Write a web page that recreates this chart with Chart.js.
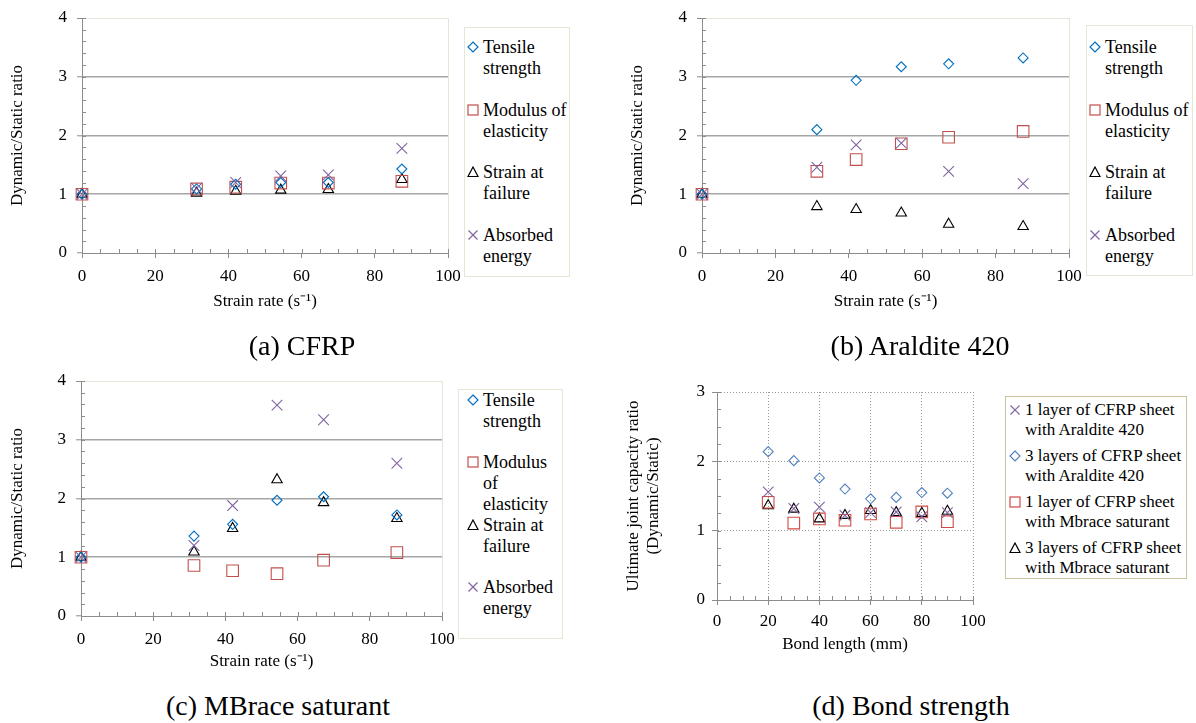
<!DOCTYPE html>
<html>
<head>
<meta charset="utf-8">
<script src="https://cdn.jsdelivr.net/npm/chart.js@4.4.1/dist/chart.umd.min.js"></script>
<style>
  body { margin: 0; background: #fff; }
  #page { position: relative; width: 1196px; height: 723px; overflow: hidden; font-family: "Liberation Serif", "Times New Roman", serif; }
  .cv { position: absolute; }
  .legend { position: absolute; box-sizing: border-box; border: 1px solid #e6e6d4; background: #fff; }
  .entry { position: absolute; font-family: "Liberation Serif", serif; font-size: 18px; line-height: 21px; color: #000; white-space: nowrap; }
  .entry svg { position: absolute; left: -16px; top: 4px; }
  .caption { position: absolute; font-family: "Liberation Serif", serif; font-size: 28px; line-height: 32px; text-align: center; width: 400px; }
</style>
</head>
<body>
<div id="page">
  <canvas id="chartA" class="cv" style="left:0px;top:-3px;width:472px;height:323px"></canvas>
  <canvas id="chartB" class="cv" style="left:600px;top:-3px;width:493px;height:323px"></canvas>
  <canvas id="chartC" class="cv" style="left:0px;top:360px;width:466px;height:323px"></canvas>
  <canvas id="chartD" class="cv" style="left:600px;top:372px;width:393px;height:300px"></canvas>
  <div class="caption" style="left:102px;top:330px">(a) CFRP</div>
  <div class="caption" style="left:720px;top:330px">(b) Araldite 420</div>
  <div class="caption" style="left:78px;top:690px">(c) MBrace saturant</div>
  <div class="caption" style="left:711px;top:690px">(d) Bond strength</div>
</div>
<script>
// (a) CFRP
var rateA = [0, 31.3, 42, 54.3, 67.3, 87.4];
var tensileA = [1, 1.09, 1.17, 1.2, 1.2, 1.43];
var modulusA = [1, 1.09, 1.12, 1.19, 1.19, 1.22];
var strainA = [1, 1.02, 1.05, 1.07, 1.08, 1.25];
var energyA = [1, 1.1, 1.2, 1.31, 1.33, 1.78];

// (b) Araldite 420
var rateB = [0, 31.3, 42, 54.3, 67.2, 87.5];
var tensileB = [1, 2.10, 2.94, 3.17, 3.22, 3.32];
var modulusB = [1, 1.39, 1.59, 1.86, 1.97, 2.07];
var strainB = [1, 0.79, 0.74, 0.68, 0.49, 0.45];
var energyB = [1, 1.46, 1.84, 1.87, 1.39, 1.18];

// (c) MBrace saturant
var rateC = [0, 31.3, 42, 54.3, 67.2, 87.5];
var tensileC = [1, 1.36, 1.56, 1.97, 2.03, 1.72];
var modulusC = [1, 0.86, 0.77, 0.72, 0.95, 1.08];
var strainC = [1, 1.09, 1.49, 2.32, 1.93, 1.66];
var energyC = [1, 1.20, 1.88, 3.59, 3.34, 2.60];

// (d) Bond strength
var bondLength = [20, 30, 40, 50, 60, 70, 80, 90];
var oneLayerAraldite = [1.56, 1.32, 1.34, 1.22, 1.26, 1.27, 1.20, 1.26];
var threeLayerAraldite = [2.14, 2.01, 1.76, 1.60, 1.46, 1.48, 1.55, 1.54];
var oneLayerMbrace = [1.41, 1.11, 1.17, 1.15, 1.24, 1.12, 1.27, 1.13];
var threeLayerMbrace = [1.36, 1.31, 1.17, 1.22, 1.29, 1.26, 1.25, 1.28];

var propLabels = [["Tensile", "strength"], ["Modulus of", "elasticity"], ["Strain at", "failure"], ["Absorbed", "energy"]];
var propLabelsC = [["Tensile", "strength"], ["Modulus", "of", "elasticity"], ["Strain at", "failure"], ["Absorbed", "energy"]];
var bondLabels = [["1 layer of CFRP sheet", "with Araldite 420"], ["3 layers of CFRP sheet", "with Araldite 420"],
                  ["1 layer of CFRP sheet", "with Mbrace saturant"], ["3 layers of CFRP sheet", "with Mbrace saturant"]];

var BLUE = "#0070c0", RED = "#c0504d", PURPLE = "#8064a2", BLACK = "#000000";
var FONT = "'Liberation Serif', 'Times New Roman', serif";

function toPoints(xs, ys) {
    var pts = [];
    for (var i = 0; i < xs.length; i++) pts.push({x: xs[i], y: ys[i]});
    return pts;
}

var markers = {
    diamond: {pointStyle: "rectRot", radius: 5},
    square: {pointStyle: "rect", radius: 8.2},
    triangle: {pointStyle: "triangle", radius: 6},
    cross: {pointStyle: "crossRot", radius: 7.5}
};

function dataset(label, xs, ys, kind, color) {
    return {
        label: label, data: toPoints(xs, ys), showLine: false, clip: false,
        pointStyle: markers[kind].pointStyle, pointRadius: markers[kind].radius,
        pointBorderColor: color, pointBackgroundColor: "rgba(0,0,0,0)", pointBorderWidth: 1.1
    };
}

// small inward ticks between the major ones
var minorTicks = {
    id: "minorTicks",
    afterDraw: function(chart, args, opts) {
        var ctx = chart.ctx, a = chart.chartArea, xs = chart.scales.x, ys = chart.scales.y;
        ctx.save();
        ctx.strokeStyle = "#8c8c8c";
        ctx.lineWidth = 1;
        ctx.beginPath();
        for (var v = ys.min; v <= ys.max + 1e-9; v += opts.y) {
            var py = Math.round(ys.getPixelForValue(v)) + 0.5;
            ctx.moveTo(a.left, py); ctx.lineTo(a.left + 4, py);
        }
        for (var u = xs.min; u <= xs.max + 1e-9; u += opts.x) {
            var px = Math.round(xs.getPixelForValue(u)) + 0.5;
            ctx.moveTo(px, a.bottom); ctx.lineTo(px, a.bottom - 4);
        }
        ctx.stroke();
        ctx.restore();
    }
};

function propChart(id, xs, series, cfg) {
    var colors = [BLUE, RED, BLACK, PURPLE];
    var kinds = ["diamond", "square", "triangle", "cross"];
    var names = ["Tensile strength", "Modulus of elasticity", "Strain at failure", "Absorbed energy"];
    var sets = [];
    // draw order: energy, tensile, modulus, strain
    [3, 0, 1, 2].forEach(function(i) { sets.push(dataset(names[i], xs, series[i], kinds[i], colors[i])); });
    return new Chart(document.getElementById(id), {
        type: "scatter",
        data: {datasets: sets},
        options: {
            responsive: false, animation: false,
            layout: {padding: {left: cfg.padLeft, top: 21, right: 24, bottom: cfg.padBottom}},
            plugins: {legend: {display: false}, tooltip: {enabled: false}, minorTicks: {x: 5, y: 0.2}},
            scales: {
                x: {
                    type: "linear", min: 0, max: 100,
                    afterFit: function(s) { s.height = cfg.xHeight; },
                    ticks: {stepSize: 20, color: "#000", font: {family: FONT, size: 17}, padding: 8, maxRotation: 0},
                    grid: {
                        color: function(c) { return c.tick && c.tick.value === 100 ? "#e6e6d8" : "rgba(0,0,0,0)"; },
                        tickColor: "#8c8c8c", tickLength: 5, lineWidth: 1
                    },
                    border: {color: "#8c8c8c", width: 1},
                    title: {display: true, text: "Strain rate (s\u207B\u00B9)", color: "#000", font: {family: FONT, size: 17}, padding: {top: 0, bottom: 2}}
                },
                y: {
                    min: 0, max: 4,
                    afterFit: function(s) { s.width = cfg.yWidth; },
                    ticks: {stepSize: 1, color: "#000", font: {family: FONT, size: 17}, padding: 10},
                    grid: {
                        color: function(c) {
                            if (!c.tick) return "rgba(0,0,0,0)";
                            if (c.tick.value === 4) return "#e6e6d8";
                            if (c.tick.value === 0) return "rgba(0,0,0,0)";
                            return "#a6a6a6";
                        },
                        lineWidth: function(c) { return c.tick && c.tick.value === 4 ? 1 : 1.6; },
                        tickColor: "#8c8c8c", tickLength: 5, tickWidth: 1
                    },
                    border: {color: "#8c8c8c", width: 1},
                    title: {display: true, text: "Dynamic/Static ratio", color: "#000", font: {family: FONT, size: 17}, padding: {top: 7, bottom: 0}}
                }
            }
        },
        plugins: [minorTicks]
    });
}

propChart("chartA", rateA, [tensileA, modulusA, strainA, energyA], {padLeft: 0, padBottom: 6, xHeight: 61, yWidth: 82});
propChart("chartB", rateB, [tensileB, modulusB, strainB, energyB], {padLeft: 20, padBottom: 6, xHeight: 61, yWidth: 82});
propChart("chartC", rateC, [tensileC, modulusC, strainC, energyC], {padLeft: 0, padBottom: 9, xHeight: 58, yWidth: 81});

// (d) bond strength chart
var D_BLUE = "#4f81bd", D_RED = "#d04a45";
new Chart(document.getElementById("chartD"), {
    type: "scatter",
    data: {datasets: [
        dataset("1 layer of CFRP sheet with Araldite 420", bondLength, oneLayerAraldite, "cross", PURPLE),
        dataset("3 layers of CFRP sheet with Araldite 420", bondLength, threeLayerAraldite, "diamond", D_BLUE),
        dataset("1 layer of CFRP sheet with Mbrace saturant", bondLength, oneLayerMbrace, "square", D_RED),
        dataset("3 layers of CFRP sheet with Mbrace saturant", bondLength, threeLayerMbrace, "triangle", BLACK)
    ]},
    options: {
        responsive: false, animation: false,
        layout: {padding: {left: 0, top: 20, right: 20, bottom: 15}},
        plugins: {legend: {display: false}, tooltip: {enabled: false}, minorTicks: {x: 5, y: 0.25}},
        scales: {
            x: {
                type: "linear", min: 0, max: 100,
                afterFit: function(s) { s.height = 57; },
                ticks: {stepSize: 20, color: "#000", font: {family: FONT, size: 17}, padding: 6, maxRotation: 0},
                grid: {
                    color: function(c) { return c.tick && c.tick.value > 0 ? "#9a9a9a" : "rgba(0,0,0,0)"; },
                    tickColor: "#8c8c8c", tickLength: 5, lineWidth: 1
                },
                border: {color: "#8c8c8c", width: 1, dash: [1, 2]},
                title: {display: true, text: "Bond length (mm)", color: "#000", font: {family: FONT, size: 17}, padding: {top: 0, bottom: 2}}
            },
            y: {
                min: 0, max: 3,
                afterFit: function(s) { s.width = 117; },
                ticks: {stepSize: 1, color: "#000", font: {family: FONT, size: 17}, padding: 7},
                grid: {
                    color: function(c) { return c.tick && c.tick.value > 0 ? "#9a9a9a" : "rgba(0,0,0,0)"; },
                    tickColor: "#8c8c8c", tickLength: 5, lineWidth: 1
                },
                border: {color: "#8c8c8c", width: 1, dash: [1, 2]},
                title: {display: true, text: ["Ultimate joint capacity ratio", "(Dynamic/Static)"], color: "#000",
                        font: {family: FONT, size: 17}, padding: {top: 23, bottom: 0}}
            }
        }
    },
    plugins: [minorTicks]
});

// HTML legends
function markerSvg(kind, color) {
    var s = '<svg width="12" height="12" viewBox="0 0 12 12">';
    if (kind === "diamond") s += '<polygon points="6,1 11,6 6,11 1,6" fill="none" stroke="' + color + '" stroke-width="1.2"/>';
    if (kind === "square") s += '<rect x="1" y="1" width="10" height="10" fill="none" stroke="' + color + '" stroke-width="1.2"/>';
    if (kind === "triangle") s += '<polygon points="6,1 11,10.5 1,10.5" fill="none" stroke="' + color + '" stroke-width="1.2"/>';
    if (kind === "cross") s += '<path d="M1.5,1.5 L10.5,10.5 M10.5,1.5 L1.5,10.5" stroke="' + color + '" stroke-width="1.2"/>';
    return s + '</svg>';
}

function makeLegend(box, textLeft, tops, labels, kinds, colors, fontSize, borderColor) {
    var page = document.getElementById("page");
    var div = document.createElement("div");
    div.className = "legend";
    div.style.left = box[0] + "px"; div.style.top = box[1] + "px";
    div.style.width = box[2] + "px"; div.style.height = box[3] + "px";
    if (borderColor) div.style.borderColor = borderColor;
    page.appendChild(div);
    for (var i = 0; i < labels.length; i++) {
        var e = document.createElement("div");
        e.className = "entry";
        e.style.left = textLeft + "px";
        e.style.top = (tops[i] - 10) + "px";
        if (fontSize) { e.style.fontSize = fontSize + "px"; e.style.lineHeight = "20px"; }
        e.innerHTML = markerSvg(kinds[i], colors[i]) + labels[i].join("<br>");
        page.appendChild(e);
    }
}

var propKinds = ["diamond", "square", "triangle", "cross"];
var propColors = [BLUE, RED, BLACK, PURPLE];
makeLegend([464, 27, 106, 250], 483, [47, 110, 172, 235], propLabels, propKinds, propColors);
makeLegend([1086, 25, 107, 251], 1105, [47, 110, 172, 235], propLabels, propKinds, propColors);
makeLegend([458, 389, 105, 250], 483, [400, 462, 525, 587], propLabelsC, propKinds, propColors);
makeLegend([1005, 396, 182, 183], 1025, [410, 456, 502, 548], bondLabels,
           ["cross", "diamond", "square", "triangle"], [PURPLE, D_BLUE, D_RED, BLACK], 17, "#cbc39e");
</script>
</body>
</html>
